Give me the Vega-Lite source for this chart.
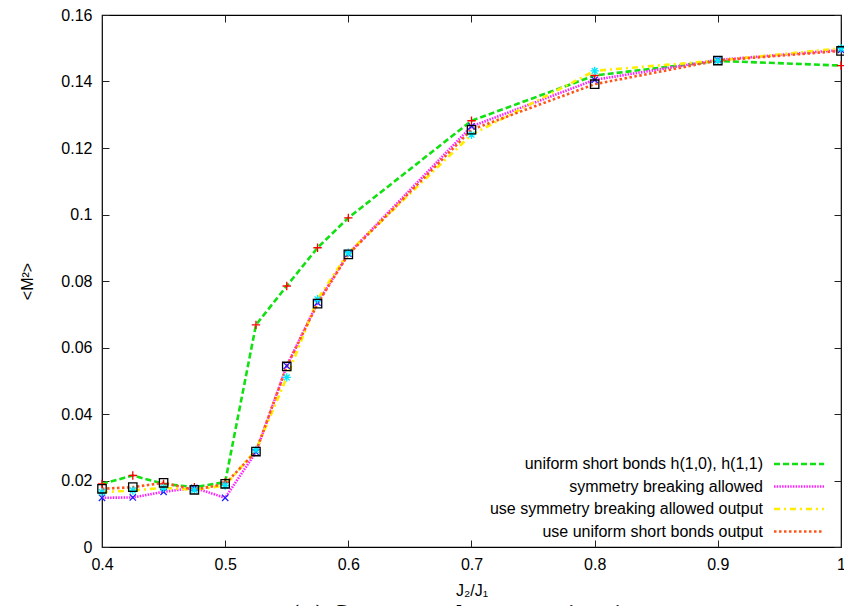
{
  "$schema": "https://vega.github.io/schema/vega-lite/v6.json",
  "width": 739,
  "height": 532,
  "autosize": {"type": "none"},
  "padding": {"left": 102, "top": 15, "right": 3, "bottom": 59},
  "background": "white",
  "config": {
    "view": {"stroke": "black", "strokeWidth": 1.2},
    "font": "Liberation Sans",
    "axis": {
      "grid": false,
      "domain": false,
      "ticks": true,
      "tickColor": "#222222",
      "tickSize": 7,
      "tickWidth": 1,
      "offset": -7,
      "labelFlush": false,
      "labelFont": "Liberation Sans",
      "labelFontSize": 16,
      "labelColor": "black",
      "titleFont": "Liberation Sans",
      "titleFontSize": 16,
      "titleFontWeight": "normal",
      "titleColor": "black"
    }
  },
  "title": {
    "text": "(a) Staggered magnetization",
    "orient": "bottom",
    "anchor": "middle",
    "font": "DejaVu Serif",
    "fontSize": 25,
    "fontWeight": "normal",
    "baseline": "top",
    "offset": 5
  },
  "data": {
    "values": [
      {"x": 0.4, "y": 0.019, "s": "uniform short bonds h(1,0), h(1,1)", "m": "plus"},
      {"x": 0.425, "y": 0.0215, "s": "uniform short bonds h(1,0), h(1,1)", "m": "plus"},
      {"x": 0.45, "y": 0.019, "s": "uniform short bonds h(1,0), h(1,1)", "m": "plus"},
      {"x": 0.475, "y": 0.018, "s": "uniform short bonds h(1,0), h(1,1)", "m": "plus"},
      {"x": 0.5, "y": 0.0195, "s": "uniform short bonds h(1,0), h(1,1)", "m": "plus"},
      {"x": 0.525, "y": 0.0668, "s": "uniform short bonds h(1,0), h(1,1)", "m": "plus"},
      {"x": 0.55, "y": 0.0785, "s": "uniform short bonds h(1,0), h(1,1)", "m": "plus"},
      {"x": 0.575, "y": 0.09, "s": "uniform short bonds h(1,0), h(1,1)", "m": "plus"},
      {"x": 0.6, "y": 0.099, "s": "uniform short bonds h(1,0), h(1,1)", "m": "plus"},
      {"x": 0.7, "y": 0.1282, "s": "uniform short bonds h(1,0), h(1,1)", "m": "plus"},
      {"x": 0.8, "y": 0.1418, "s": "uniform short bonds h(1,0), h(1,1)", "m": "plus"},
      {"x": 0.9, "y": 0.1462, "s": "uniform short bonds h(1,0), h(1,1)", "m": "plus"},
      {"x": 1.0, "y": 0.1448, "s": "uniform short bonds h(1,0), h(1,1)", "m": "plus"},
      {"x": 0.4, "y": 0.0148, "s": "symmetry breaking allowed", "m": "cross"},
      {"x": 0.425, "y": 0.0149, "s": "symmetry breaking allowed", "m": "cross"},
      {"x": 0.45, "y": 0.0166, "s": "symmetry breaking allowed", "m": "cross"},
      {"x": 0.475, "y": 0.0178, "s": "symmetry breaking allowed", "m": "cross"},
      {"x": 0.5, "y": 0.0148, "s": "symmetry breaking allowed", "m": "cross"},
      {"x": 0.525, "y": 0.0285, "s": "symmetry breaking allowed", "m": "cross"},
      {"x": 0.55, "y": 0.0545, "s": "symmetry breaking allowed", "m": "cross"},
      {"x": 0.575, "y": 0.0735, "s": "symmetry breaking allowed", "m": "cross"},
      {"x": 0.6, "y": 0.0882, "s": "symmetry breaking allowed", "m": "cross"},
      {"x": 0.7, "y": 0.1265, "s": "symmetry breaking allowed", "m": "cross"},
      {"x": 0.8, "y": 0.1405, "s": "symmetry breaking allowed", "m": "cross"},
      {"x": 0.9, "y": 0.1465, "s": "symmetry breaking allowed", "m": "cross"},
      {"x": 1.0, "y": 0.1495, "s": "symmetry breaking allowed", "m": "cross"},
      {"x": 0.4, "y": 0.0165, "s": "use symmetry breaking allowed output", "m": "star"},
      {"x": 0.425, "y": 0.017, "s": "use symmetry breaking allowed output", "m": "star"},
      {"x": 0.45, "y": 0.0178, "s": "use symmetry breaking allowed output", "m": "star"},
      {"x": 0.475, "y": 0.0172, "s": "use symmetry breaking allowed output", "m": "star"},
      {"x": 0.5, "y": 0.0185, "s": "use symmetry breaking allowed output", "m": "star"},
      {"x": 0.525, "y": 0.0292, "s": "use symmetry breaking allowed output", "m": "star"},
      {"x": 0.55, "y": 0.051, "s": "use symmetry breaking allowed output", "m": "star"},
      {"x": 0.575, "y": 0.0745, "s": "use symmetry breaking allowed output", "m": "star"},
      {"x": 0.6, "y": 0.0885, "s": "use symmetry breaking allowed output", "m": "star"},
      {"x": 0.7, "y": 0.124, "s": "use symmetry breaking allowed output", "m": "star"},
      {"x": 0.8, "y": 0.1432, "s": "use symmetry breaking allowed output", "m": "star"},
      {"x": 0.9, "y": 0.1463, "s": "use symmetry breaking allowed output", "m": "star"},
      {"x": 1.0, "y": 0.15, "s": "use symmetry breaking allowed output", "m": "star"},
      {"x": 0.4, "y": 0.0175, "s": "use uniform short bonds output", "m": "box"},
      {"x": 0.425, "y": 0.018, "s": "use uniform short bonds output", "m": "box"},
      {"x": 0.45, "y": 0.0193, "s": "use uniform short bonds output", "m": "box"},
      {"x": 0.475, "y": 0.0172, "s": "use uniform short bonds output", "m": "box"},
      {"x": 0.5, "y": 0.019, "s": "use uniform short bonds output", "m": "box"},
      {"x": 0.525, "y": 0.0287, "s": "use uniform short bonds output", "m": "box"},
      {"x": 0.55, "y": 0.0543, "s": "use uniform short bonds output", "m": "box"},
      {"x": 0.575, "y": 0.0732, "s": "use uniform short bonds output", "m": "box"},
      {"x": 0.6, "y": 0.088, "s": "use uniform short bonds output", "m": "box"},
      {"x": 0.7, "y": 0.1255, "s": "use uniform short bonds output", "m": "box"},
      {"x": 0.8, "y": 0.1392, "s": "use uniform short bonds output", "m": "box"},
      {"x": 0.9, "y": 0.1463, "s": "use uniform short bonds output", "m": "box"},
      {"x": 1.0, "y": 0.1492, "s": "use uniform short bonds output", "m": "box"}
    ]
  },
  "resolve": {"axis": {"x": "independent", "y": "independent"}},
  "layer": [
    {
      "mark": {"type": "line", "strokeWidth": 2.6, "clip": true},
      "encoding": {
        "x": {
          "field": "x", "type": "quantitative",
          "scale": {"domain": [0.4, 1.0], "nice": false, "zero": false},
          "axis": {"orient": "bottom", "values": [0.4, 0.5, 0.6, 0.7, 0.8, 0.9, 1.0], "format": "~g", "labelPadding": 9, "title": "J₂/J₁", "titlePadding": 10}
        },
        "y": {
          "field": "y", "type": "quantitative",
          "scale": {"domain": [0, 0.16], "nice": false},
          "axis": {"orient": "left", "values": [0, 0.02, 0.04, 0.06, 0.08, 0.1, 0.12, 0.14, 0.16], "format": "~g", "labelPadding": 10, "title": "<M²>", "titlePadding": 25}
        },
        "color": {
          "field": "s", "type": "nominal",
          "scale": {
            "domain": ["uniform short bonds h(1,0), h(1,1)", "symmetry breaking allowed", "use symmetry breaking allowed output", "use uniform short bonds output"],
            "range": ["#11e011", "#ff22ff", "#ffee00", "#ff5518"]
          },
          "legend": {
            "title": null,
            "orient": "none",
            "legendX": 689,
            "legendY": 441,
            "padding": 0,
            "symbolType": "M-5,0L5,0",
            "symbolSize": 100,
            "symbolStrokeWidth": 2.6,
            "labelAlign": "right",
            "labelOffset": -44,
            "labelFont": "Liberation Sans",
            "labelFontSize": 16,
            "labelColor": "black",
            "labelLimit": 400,
            "rowPadding": 6.5
          }
        },
        "strokeDash": {
          "field": "s", "type": "nominal",
          "scale": {
            "domain": ["uniform short bonds h(1,0), h(1,1)", "symmetry breaking allowed", "use symmetry breaking allowed output", "use uniform short bonds output"],
            "range": [[6, 3], [1.5, 1.2], [6, 4, 2, 4], [2.5, 2.5]]
          },
          "legend": {
            "title": null,
            "orient": "none",
            "legendX": 689,
            "legendY": 441
          }
        }
      }
    },
    {
      "mark": {"type": "point", "filled": false, "strokeWidth": 1.3, "size": 70, "opacity": 1},
      "encoding": {
        "x": {
          "field": "x", "type": "quantitative",
          "axis": {"orient": "top", "values": [0.4, 0.5, 0.6, 0.7, 0.8, 0.9, 1.0], "labels": false, "title": null}
        },
        "y": {
          "field": "y", "type": "quantitative",
          "axis": {"orient": "right", "values": [0, 0.02, 0.04, 0.06, 0.08, 0.1, 0.12, 0.14, 0.16], "labels": false, "title": null}
        },
        "stroke": {
          "field": "m", "type": "nominal",
          "scale": {
            "domain": ["plus", "cross", "star", "box"],
            "range": ["#ff0000", "#2020ff", "#00e8ff", "#000000"]
          },
          "legend": null
        },
        "shape": {
          "field": "m", "type": "nominal",
          "scale": {
            "domain": ["plus", "cross", "star", "box"],
            "range": ["M-1,0L1,0M0,-1L0,1", "M-0.75,-0.75L0.75,0.75M-0.75,0.75L0.75,-0.75", "M-1,0L1,0M0,-1L0,1M-0.7,-0.7L0.7,0.7M-0.7,0.7L0.7,-0.7", "square"]
          },
          "legend": null
        }
      }
    }
  ]
}
